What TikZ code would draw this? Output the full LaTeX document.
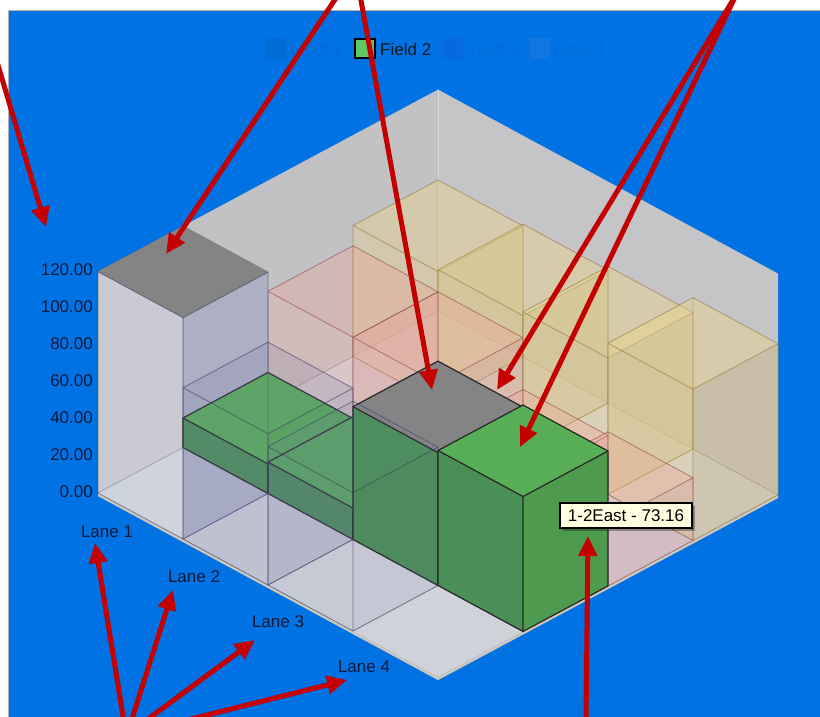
\documentclass[tikz,border=0pt]{standalone}
\usepackage{fontspec}
\setmainfont{Liberation Sans}
\usetikzlibrary{arrows.meta}
\definecolor{bgblue}{RGB}{0,114,227}
\definecolor{wallL}{RGB}{194,194,197}
\definecolor{wallR}{RGB}{197,197,200}
\definecolor{floorc}{RGB}{208,210,218}
\definecolor{slabc}{RGB}{205,198,186}
\definecolor{gridc}{RGB}{172,172,188}
% field 1, lane 1 (front, bluish grey)
\definecolor{faT}{RGB}{172,176,205}
\definecolor{faL}{RGB}{208,210,226}
\definecolor{faR}{RGB}{156,160,192}
\definecolor{faE}{RGB}{70,72,105}
% field 1, other lanes (darker tint, low opacity)
\definecolor{fbT}{RGB}{120,125,170}
\definecolor{fbL}{RGB}{120,125,170}
\definecolor{fbR}{RGB}{105,110,160}
\definecolor{fbE}{RGB}{60,62,100}
% field 3 (pink)
\definecolor{pkT}{RGB}{240,165,155}
\definecolor{pkL}{RGB}{236,178,170}
\definecolor{pkR}{RGB}{215,150,150}
\definecolor{pkE}{RGB}{140,70,70}
% field 4 (tan)
\definecolor{ylT}{RGB}{235,213,140}
\definecolor{ylL}{RGB}{228,208,145}
\definecolor{ylR}{RGB}{205,185,125}
\definecolor{ylE}{RGB}{140,118,55}
% field 2 (green)
\definecolor{gT}{RGB}{88,174,86}
\definecolor{gL}{RGB}{74,143,86}
\definecolor{gR}{RGB}{78,154,78}
\definecolor{selgrey}{RGB}{132,132,132}
\definecolor{arrowred}{RGB}{196,0,0}
\definecolor{labelc}{RGB}{18,26,58}
\definecolor{tipfill}{RGB}{255,255,225}
\definecolor{legGreen}{RGB}{96,200,96}
\definecolor{legThree}{RGB}{60,60,200}
\definecolor{legFour}{RGB}{110,150,200}

\newcommand\cbox[5]{%
  \fill[#4T,fill opacity=#5] (#1,#2,#3) -- ({#1+1},#2,#3) -- ({#1+1},{#2+1},#3) -- (#1,{#2+1},#3) -- cycle;
  \fill[#4L,fill opacity=#5] (#1,#2,0) -- ({#1+1},#2,0) -- ({#1+1},#2,#3) -- (#1,#2,#3) -- cycle;
  \fill[#4R,fill opacity=#5] ({#1+1},#2,0) -- ({#1+1},{#2+1},0) -- ({#1+1},{#2+1},#3) -- ({#1+1},#2,#3) -- cycle;
  \draw[#4E,draw opacity=0.35,line width=0.7pt] (#1,#2,0) -- (#1,{#2+1},0) -- ({#1+1},{#2+1},0) (#1,{#2+1},0) -- (#1,{#2+1},#3);
  \draw[#4E,draw opacity=0.6,line width=0.8pt,line join=round] (#1,#2,0) -- ({#1+1},#2,0) -- ({#1+1},{#2+1},0) -- ({#1+1},{#2+1},#3) -- (#1,{#2+1},#3) -- (#1,#2,#3) -- cycle (#1,#2,#3) -- ({#1+1},#2,#3) -- ({#1+1},{#2+1},#3) ({#1+1},#2,#3) -- ({#1+1},#2,0);
}
\newcommand\gbox[4]{%
  \fill[#4] (#1,#2,#3) -- ({#1+1},#2,#3) -- ({#1+1},{#2+1},#3) -- (#1,{#2+1},#3) -- cycle;
  \fill[gL] (#1,#2,0) -- ({#1+1},#2,0) -- ({#1+1},#2,#3) -- (#1,#2,#3) -- cycle;
  \fill[gR] ({#1+1},#2,0) -- ({#1+1},{#2+1},0) -- ({#1+1},{#2+1},#3) -- ({#1+1},#2,#3) -- cycle;
  \draw[black!85,line width=1.2pt,line join=round] (#1,#2,0) -- ({#1+1},#2,0) -- ({#1+1},{#2+1},0) -- ({#1+1},{#2+1},#3) -- (#1,{#2+1},#3) -- (#1,#2,#3) -- cycle (#1,#2,#3) -- ({#1+1},#2,#3) -- ({#1+1},{#2+1},#3) ({#1+1},#2,#3) -- ({#1+1},#2,0);
}

\tikzset{
  redarrow/.style={draw=arrowred,line width=5pt,-{Triangle[length=20pt,width=18pt]}},
  axlabel/.style={text=labelc,font=\fontsize{17}{20}\selectfont,inner sep=0pt},
  fadedtext/.style={anchor=west,text=black,opacity=0.05,font=\fontsize{17}{20}\selectfont,inner sep=0pt},
}

\begin{document}
\begin{tikzpicture}[x=1pt,y=1pt]
\useasboundingbox (0,0) rectangle (820,717);
\clip (0,0) rectangle (820,717);
\fill[white] (0,0) rectangle (820,717);
\fill[bgblue] (8,0) rectangle (820,707);
\draw[gray!60,line width=0.8pt] (8,0) -- (8,707) -- (820,707);

% legend
\fill[black,opacity=0.05] (266,658) rectangle (287,679);
\node[fadedtext] (leg1) at (291,668) {Field 1};
\filldraw[fill=legGreen,draw=black,line width=1.6pt] (355,659) rectangle (375,678);
\node[anchor=west,text=black!90,font=\fontsize{17}{20}\selectfont,inner sep=0pt] (leg2) at (380,668) {Field 2};
\fill[legThree,opacity=0.15] (443,658) rectangle (463,679);
\node[fadedtext] (leg3) at (467,668) {Field 3};
\fill[legFour,opacity=0.15] (530,658) rectangle (550,679);
\node[fadedtext] (leg4) at (554,668) {Field 4};

% y labels
\foreach \v/\yy/\nm in {0.00/225/a,20.00/262/b,40.00/299/c,60.00/336/d,80.00/373/e,100.00/410/f,120.00/447/g}{
  \node[axlabel,anchor=east] (y\nm) at (93,\yy) {\v};
}
% lane labels
\node[axlabel] (lane1) at (107,185) {Lane 1};
\node[axlabel] (lane2) at (194,140) {Lane 2};
\node[axlabel] (lane3) at (278,95) {Lane 3};
\node[axlabel] (lane4) at (364,50) {Lane 4};

\begin{scope}[shift={(98pt,224pt)},x={(85pt,-46pt)},y={(85pt,45.5pt)},z={(0pt,1.845pt)}]
  % walls
  \fill[wallL] (0,0,0) -- (0,4,0) -- (0,4,120) -- (0,0,120) -- cycle;
  \fill[wallR] (0,4,0) -- (4,4,0) -- (4,4,120) -- (0,4,120) -- cycle;
  \draw[white,opacity=0.35,line width=0.8pt] (0,4,0) -- (0,4,120);
  % floor slab
  \fill[slabc] (0,0,0) -- (4,0,0) -- (4,4,0) -- (4,4,-1.7) -- (4,0,-1.7) -- (0,0,-1.7) -- cycle;
  \fill[floorc] (0,0,0) -- (4,0,0) -- (4,4,0) -- (0,4,0) -- cycle;
  \foreach \i in {1,2,3}{
    \draw[gridc,line width=0.6pt,opacity=0.6] (\i,0,0) -- (\i,4,0) (0,\i,0) -- (4,\i,0);
  }
  % boxes back to front
  \cbox{0}{3}{71}{yl}{0.45}
  \cbox{0}{2}{60}{pk}{0.35}
  \cbox{1}{3}{72}{yl}{0.45}
  \cbox{0}{0}{120}{fa}{0.55}
  \fill[selgrey] (0,0,120) -- (1,0,120) -- (1,1,120) -- (0,1,120) -- cycle;
  \draw[faE,opacity=0.5,line width=0.8pt] (0,0,120) -- (1,0,120) -- (1,1,120);
  \gbox{0}{1}{16}{gT}
  \cbox{1}{2}{60}{pk}{0.35}
  \cbox{2}{3}{74}{yl}{0.45}
  \gbox{1}{1}{17}{gT}
  \cbox{2}{2}{32}{pk}{0.35}
  \cbox{3}{3}{82}{yl}{0.45}
  \cbox{1}{0}{82}{fb}{0.2}
  \gbox{2}{1}{72}{selgrey}
  \cbox{3}{2}{34}{pk}{0.35}
  \cbox{2}{0}{75}{fb}{0.1}
  \gbox{3}{1}{73.16}{gT}
\end{scope}

% tooltip
\fill[black,opacity=0.3] (563,186) rectangle (695,211);
\node[draw=black,fill=tipfill,line width=1.2pt,minimum width=132pt,minimum height=25pt,inner sep=0pt,font=\fontsize{17}{20}\selectfont] (tip) at (626,201.5) {1-2East - 73.16};

% red annotation arrows
\coordinate (a1s) at (-5,662);   \coordinate (a1e) at (46,490);
\coordinate (a2s) at (338,722);  \coordinate (a2e) at (166,463);
\coordinate (a3s) at (360,722);  \coordinate (a3e) at (432,327);
\coordinate (a4s) at (736,722);  \coordinate (a4e) at (497,327);
\coordinate (a5s) at (736,722);  \coordinate (a5e) at (520,270);
\coordinate (a6s) at (586,-5);   \coordinate (a6e) at (588,181);
\coordinate (l1s) at (124,-5);   \coordinate (l1e) at (95,174);
\coordinate (l2s) at (131,-5);   \coordinate (l2e) at (173,127);
\coordinate (l3s) at (144,-5);   \coordinate (l3e) at (255,77);
\coordinate (l4s) at (179,-5);   \coordinate (l4e) at (347,37);
\foreach \p in {a1,a2,a3,a4,a5,a6,l1,l2,l3,l4}{
  \draw[redarrow] (\p s) -- (\p e);
}
\end{tikzpicture}
\end{document}
